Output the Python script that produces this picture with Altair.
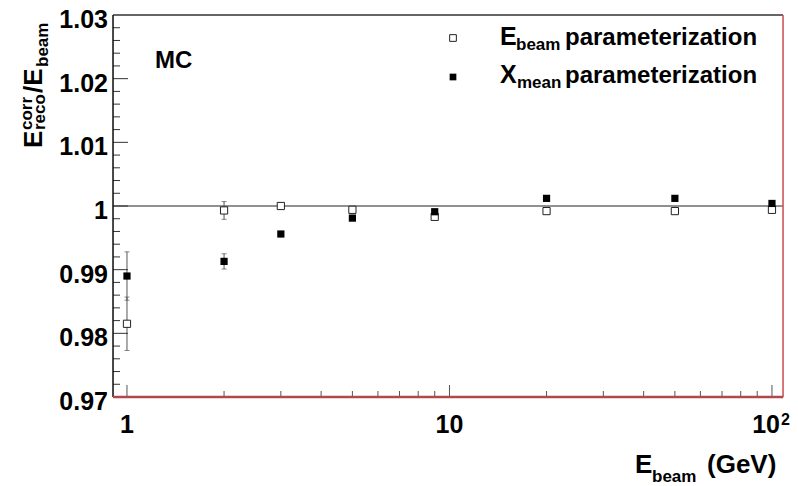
import altair as alt
import pandas as pd

# ---------------- data ----------------
energy = [1, 2, 3, 5, 9, 20, 50, 100]
ebeam_ratio = [0.9815, 0.9993, 1.0000, 0.9994, 0.9983, 0.9992, 0.9992, 0.9994]
ebeam_err = [0.0042, 0.0014, 0.0003, 0.0002, 0.0002, 0.0002, 0.0002, 0.0002]
xmean_ratio = [0.9890, 0.9913, 0.9956, 0.9981, 0.9991, 1.0012, 1.0012, 1.0004]
xmean_err = [0.0038, 0.0012, 0.0003, 0.0002, 0.0002, 0.0002, 0.0002, 0.0002]

y_major = [0.97, 0.98, 0.99, 1.00, 1.01, 1.02, 1.03]
y_labels = ["0.97", "0.98", "0.99", "1", "1.01", "1.02", "1.03"]
y_minor = [round(0.97 + 0.002 * i, 3) for i in range(31) if i % 5]
x_major = [1, 10, 100]
x_minor = [2, 3, 4, 5, 6, 7, 8, 9, 20, 30, 40, 50, 60, 70, 80, 90]

W, H = 670, 382
FONT = "Liberation Sans"

df_e = pd.DataFrame({"E": energy, "r": ebeam_ratio,
                     "lo": [r - e for r, e in zip(ebeam_ratio, ebeam_err)],
                     "hi": [r + e for r, e in zip(ebeam_ratio, ebeam_err)]})
df_x = pd.DataFrame({"E": energy, "r": xmean_ratio,
                     "lo": [r - e for r, e in zip(xmean_ratio, xmean_err)],
                     "hi": [r + e for r, e in zip(xmean_ratio, xmean_err)]})

xs = alt.Scale(type="log", domain=[0.905, 108.2], nice=False)
ys = alt.Scale(domain=[0.97, 1.03], nice=False, zero=False)
X = lambda f: alt.X(f, type="quantitative", scale=xs, axis=None)
Y = lambda f: alt.Y(f, type="quantitative", scale=ys, axis=None)


def one():
    return pd.DataFrame({"k": [0]})


layers = []

# reference line at 1
layers.append(alt.Chart(one()).mark_rule(color="#222", strokeWidth=1.2).encode(
    y=alt.Y(datum=1.0, type="quantitative", scale=ys, axis=None),
    x=alt.value(0), x2=alt.value(W)))

# error bars
for d in (df_e, df_x):
    layers.append(alt.Chart(d).mark_rule(color="#555", strokeWidth=1).encode(
        x=X("E"), y=Y("lo"), y2="hi"))
    for c in ("lo", "hi"):
        layers.append(alt.Chart(d).mark_tick(color="#555", thickness=1, size=5,
                                             orient="horizontal").encode(
            x=X("E"), y=Y(c)))

# markers
layers.append(alt.Chart(df_e).mark_point(shape="square", filled=True, fill="white",
                                         stroke="#222", strokeWidth=1, size=52,
                                         opacity=1).encode(x=X("E"), y=Y("r")))
layers.append(alt.Chart(df_x).mark_point(shape="square", filled=True, color="black",
                                         size=52, opacity=1).encode(x=X("E"), y=Y("r")))

# y ticks (inward)
layers.append(alt.Chart(pd.DataFrame({"v": y_major})).mark_rule(color="#333", strokeWidth=1).encode(
    y=Y("v"), x=alt.value(0), x2=alt.value(15)))
layers.append(alt.Chart(pd.DataFrame({"v": y_minor})).mark_rule(color="#333", strokeWidth=1).encode(
    y=Y("v"), x=alt.value(0), x2=alt.value(7)))
# x ticks (inward)
layers.append(alt.Chart(pd.DataFrame({"v": x_major})).mark_rule(color="#555", strokeWidth=1).encode(
    x=X("v"), y=alt.value(H), y2=alt.value(H - 12)))
layers.append(alt.Chart(pd.DataFrame({"v": x_minor})).mark_rule(color="#555", strokeWidth=1).encode(
    x=X("v"), y=alt.value(H), y2=alt.value(H - 6)))

# frame
layers.append(alt.Chart(one()).mark_rule(color="#666", strokeWidth=2).encode(
    x=alt.value(0), x2=alt.value(W), y=alt.value(0)))
layers.append(alt.Chart(one()).mark_rule(color="#d05050", strokeWidth=1.5).encode(
    x=alt.value(W), y=alt.value(0), y2=alt.value(H)))
layers.append(alt.Chart(one()).mark_rule(color="#111", strokeWidth=1.5).encode(
    x=alt.value(0), y=alt.value(0), y2=alt.value(H)))
layers.append(alt.Chart(one()).mark_rule(color="#b04a4a", strokeWidth=2.5).encode(
    x=alt.value(0), x2=alt.value(W), y=alt.value(H)))

# y tick labels
layers.append(alt.Chart(pd.DataFrame({"v": y_major, "t": y_labels})).mark_text(
    font=FONT, fontWeight="bold", fontSize=25, align="right", baseline="middle",
    dy=5, color="black").encode(y=Y("v"), x=alt.value(-5), text="t:N"))

# x tick labels
layers.append(alt.Chart(pd.DataFrame({"v": x_major[:2], "t": ["1", "10"]})).mark_text(
    font=FONT, fontWeight="bold", fontSize=25, align="center", baseline="alphabetic",
    color="black").encode(x=X("v"), y=alt.value(418), text="t:N"))
layers.append(alt.Chart(pd.DataFrame({"v": x_major[2:], "t": ["10"]})).mark_text(
    font=FONT, fontWeight="bold", fontSize=25, align="right", baseline="alphabetic",
    dx=8, color="black").encode(x=X("v"), y=alt.value(418), text="t:N"))
layers.append(alt.Chart(pd.DataFrame({"v": x_major[2:], "t": ["2"]})).mark_text(
    font=FONT, fontWeight="bold", fontSize=16, align="left", baseline="alphabetic",
    dx=9, color="black").encode(x=X("v"), y=alt.value(410), text="t:N"))


def txt(t, x, y, size, align="left", angle=None):
    kw = dict(font=FONT, fontWeight="bold", fontSize=size, align=align,
              baseline="alphabetic", color="black")
    if angle is not None:
        kw["angle"] = angle
    return alt.Chart(pd.DataFrame({"t": [t]})).mark_text(**kw).encode(
        x=alt.value(x), y=alt.value(y), text="t:N")


# x title: E_beam (GeV)
layers.append(txt("E", 522, 458, 26))
layers.append(txt("beam", 539, 467, 17))
layers.append(txt("(GeV)", 594, 458, 26))

# y title (rotated): E^corr_reco / E_beam
ox, oy = -113, -15  # absolute -> plot coordinates
layers.append(txt("E", 42 + ox, 148 + oy, 26, angle=270))
layers.append(txt("corr", 32 + ox, 130 + oy, 17, angle=270))
layers.append(txt("reco", 45 + ox, 130 + oy, 17, angle=270))
layers.append(txt("/E", 42 + ox, 93 + oy, 26, angle=270))
layers.append(txt("beam", 48 + ox, 67 + oy, 17, angle=270))

# MC label
layers.append(txt("MC", 42, 53, 24))

# legend
layers.append(alt.Chart(one()).mark_point(shape="square", filled=True, fill="white",
                                          stroke="#222", strokeWidth=1, size=45,
                                          opacity=1).encode(
    x=alt.value(340), y=alt.value(23)))
layers.append(alt.Chart(one()).mark_point(shape="square", filled=True, color="black",
                                          size=45, opacity=1).encode(
    x=alt.value(340), y=alt.value(62)))
layers.append(txt("E", 387, 30, 25))
layers.append(txt("beam", 403, 35, 17))
layers.append(txt("parameterization", 452, 30, 24))
layers.append(txt("X", 387, 68, 25))
layers.append(txt("mean", 404, 73, 17))
layers.append(txt("parameterization", 452, 68, 24))

chart = alt.layer(*layers).properties(
    width=W, height=H,
    autosize=alt.AutoSizeParams(type="none"),
    padding={"left": 113, "top": 15, "right": 15, "bottom": 89},
).configure_view(stroke=None).configure(background="white")

chart.save("out.html", embed_options={"renderer": "svg", "actions": False})
